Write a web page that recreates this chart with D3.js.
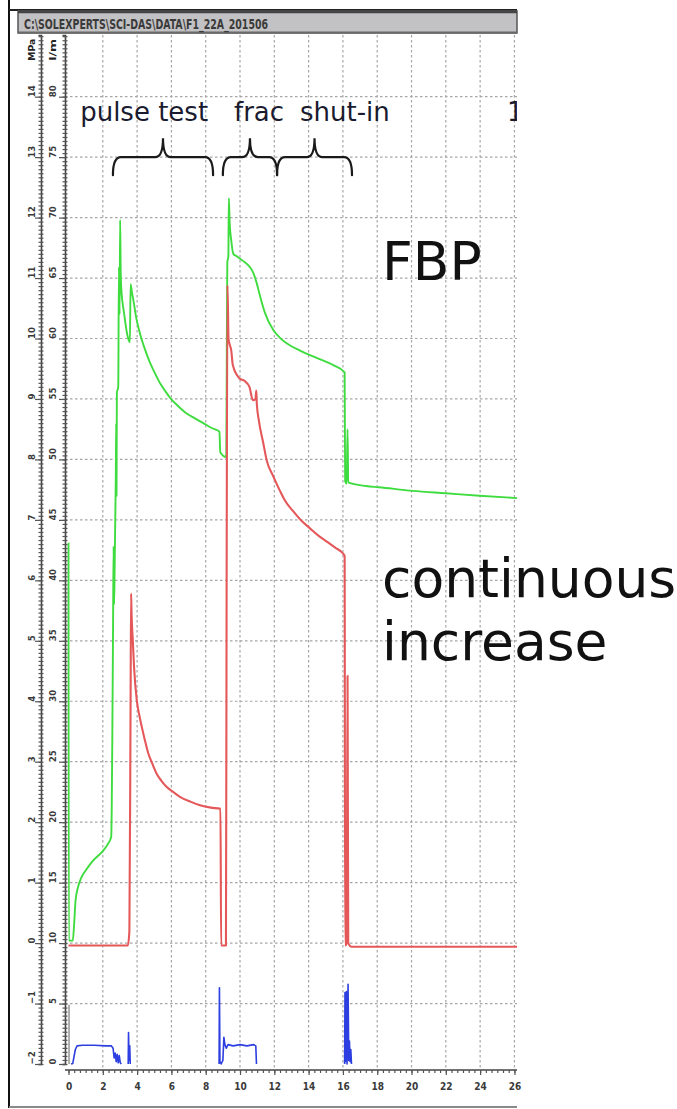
<!DOCTYPE html>
<html>
<head>
<meta charset="utf-8">
<script src="https://cdn.jsdelivr.net/npm/d3@7"></script>
<style>
  html, body { margin: 0; padding: 0; background: #fff; }
  svg { display: block; }
</style>
</head>
<body>
<svg id="chart" width="677" height="1109"></svg>
<script>
// ---- data -------------------------------------------------------------
// time axis in hours, pressure/flow channels on the instrument scale (0-80)
const titleText = "C:\\SOLEXPERTS\\SCI-DAS\\DATA\\F1_22A_201506";
const timeTicks = d3.range(0, 27, 2);
const scaleTicks = d3.range(0, 81, 5);          // right-hand scale labels
const mpaTicks = d3.range(-2, 15, 1);           // left-hand scale labels (MPa)
const unitLabels = ["MPa", "l/m"];

// upper interval pressure (green)
const greenSeries = [
  [0.00, 43.1], [0.02, 10.2], [0.25, 10.2], [0.33, 11.6], [0.41, 13.5], [0.55, 14.6],
  [0.74, 15.4], [1.00, 16.0], [1.42, 16.8], [2.00, 17.6], [2.30, 18.2], [2.49, 18.8],
  [2.52, 21.0], [2.56, 28.0], [2.60, 36.6], [2.63, 42.8], [2.66, 38.0], [2.69, 41.0],
  [2.73, 45.5], [2.76, 48.8], [2.78, 53.0], [2.80, 47.0], [2.82, 55.5], [2.90, 56.0],
  [2.94, 65.9], [2.98, 62.0], [3.01, 69.8], [3.04, 66.0], [3.07, 64.3], [3.25, 62.0],
  [3.46, 60.1], [3.58, 59.7], [3.62, 64.5], [3.70, 63.8], [3.78, 63.2], [3.95, 61.7],
  [4.17, 60.4], [4.46, 59.1], [4.75, 58.0], [5.05, 57.1], [5.34, 56.3], [5.62, 55.7],
  [5.92, 55.1], [6.40, 54.4], [6.89, 53.8], [7.37, 53.4], [7.86, 53.0], [8.35, 52.6],
  [8.80, 52.3], [8.85, 50.6], [9.20, 50.2], [9.23, 59.1], [9.26, 66.3], [9.32, 66.8],
  [9.35, 71.6], [9.40, 69.5], [9.49, 68.1], [9.61, 67.0], [9.81, 66.8], [10.19, 66.4],
  [10.58, 65.9], [10.78, 65.4], [10.97, 64.6], [11.17, 63.5], [11.46, 62.1], [11.94, 60.7],
  [12.30, 60.1], [12.72, 59.6], [13.50, 59.0], [14.47, 58.4], [15.44, 57.8], [16.10, 57.2],
  [16.13, 48.2], [16.22, 48.0], [16.27, 52.5], [16.31, 48.1], [17.35, 47.8], [18.10, 47.7],
  [20.06, 47.4], [22.00, 47.2], [23.96, 47.0], [26.15, 46.8]
];

// injection interval pressure (red)
const redSeries = [
  [0.00, 9.8], [3.46, 9.8], [3.55, 11.0], [3.62, 30.0], [3.65, 38.9], [3.68, 37.1],
  [3.75, 35.0], [3.82, 32.9], [3.98, 30.1], [4.12, 28.9], [4.27, 27.9], [4.45, 26.8],
  [4.65, 25.7], [4.90, 24.8], [5.14, 24.0], [5.43, 23.4], [5.73, 22.9], [6.10, 22.5],
  [6.50, 22.1], [7.10, 21.7], [7.67, 21.4], [8.30, 21.2], [8.86, 21.1], [8.90, 9.8],
  [9.18, 9.8], [9.22, 40.0], [9.27, 64.4], [9.33, 60.0], [9.40, 59.5], [9.49, 59.0],
  [9.58, 57.8], [9.97, 56.7], [10.26, 56.5], [10.55, 56.0], [10.75, 54.9], [10.90, 55.0],
  [10.95, 55.7], [10.98, 54.6], [11.10, 53.2], [11.35, 51.4], [11.56, 49.9], [11.94, 48.6],
  [12.33, 47.4], [12.62, 46.6], [13.11, 45.7], [13.60, 44.9], [14.08, 44.3], [14.57, 43.7],
  [15.06, 43.2], [15.55, 42.7], [16.02, 42.2], [16.10, 42.0], [16.13, 9.8], [16.22, 10.0],
  [16.27, 32.1], [16.31, 10.0], [16.50, 9.7], [20.00, 9.7], [26.15, 9.7]
];

// injection flow rate (blue), null marks a gap in the record
const blueSeries = [
  [0.15, 0.0], [0.25, 0.05], [0.32, 0.6], [0.40, 1.2], [0.50, 1.5], [0.80, 1.55],
  [1.50, 1.55], [2.20, 1.5], [2.50, 1.5], [2.60, 1.3], [2.66, 0.5], [2.72, 0.9],
  [2.78, 0.2], [2.84, 0.8], [2.90, 0.1], [2.96, 0.7], [3.02, 0.1], [3.08, 0.0],
  [3.30, null],
  [3.48, 0.0], [3.50, 2.6], [3.53, 0.3], [3.57, 1.5], [3.60, 0.0],
  [6.00, null],
  [8.78, 0.0], [8.80, 6.3], [8.83, 0.2], [8.90, 0.0], [9.00, 0.3], [9.06, 2.2],
  [9.12, 1.6], [9.20, 1.3], [9.30, 1.6], [9.60, 1.5], [10.00, 1.6], [10.40, 1.5],
  [10.80, 1.6], [10.92, 1.5], [10.96, 0.0],
  [13.00, null],
  [16.10, 0.0], [16.12, 5.9], [16.15, 0.2], [16.20, 6.0], [16.24, 0.0], [16.30, 6.6],
  [16.34, 0.3], [16.38, 1.9], [16.42, 0.2], [16.46, 1.2], [16.50, 0.0]
];

// auxiliary channel trace at start of record (grey)
const graySeries = [[0.03, 0.0], [0.03, 4.9]];

// test phases marked with braces (time span, brace level)
const phases = [
  { t0: 2.59, t1: 8.43, level: 75 },
  { t0: 9.00, t1: 12.16, level: 75 },
  { t0: 12.16, t1: 16.53, level: 75 }
];
const phaseLabels = [
  { text: "pulse test", t: 0.68, v: 78.0 },
  { text: "frac", t: 9.65, v: 78.0 },
  { text: "shut-in", t: 13.50, v: 78.0 },
  { text: "1", t: 25.57, v: 78.0 }
];
const sideNotes = [
  { text: "FBP", t: 18.28, v: 64.8 },
  { text: "continuous", t: 18.28, v: 38.6 },
  { text: "increase", t: 18.28, v: 33.4 }
];

// ---- layout -----------------------------------------------------------
const svg = d3.select("#chart");
const frame = { left: 65, right: 517, top: 35, bottom: 1068 };
const axisY = 1070;

const x = d3.scaleLinear().domain([0, 26.15]).range([68.5, 517]);
const y = d3.scaleLinear().domain([0, 85.1]).range([1064, 35]);
const yMPa = d3.scaleLinear().domain([-2, 15.02]).range([1064, 35]);

svg.append("rect").attr("width", 677).attr("height", 1109).attr("fill", "#fff");

svg.append("defs").append("clipPath").attr("id", "plotClip")
  .append("rect")
  .attr("x", frame.left).attr("y", frame.top)
  .attr("width", frame.right - frame.left).attr("height", frame.bottom - frame.top + 40);

// outer window frame
svg.append("line").attr("x1", 9).attr("x2", 9).attr("y1", 0).attr("y2", 1108)
  .attr("stroke", "#111").attr("stroke-width", 2);
svg.append("line").attr("x1", 9).attr("x2", 517).attr("y1", 10).attr("y2", 10)
  .attr("stroke", "#222").attr("stroke-width", 2);
svg.append("line").attr("x1", 9).attr("x2", 517).attr("y1", 1107).attr("y2", 1107)
  .attr("stroke", "#8a8a8a").attr("stroke-width", 2);

// title bar
svg.append("rect").attr("x", 18).attr("y", 11).attr("width", 499).attr("height", 22)
  .attr("fill", "#c2c1c3").attr("stroke", "#555").attr("stroke-width", 1.5);
svg.append("line").attr("x1", 18).attr("x2", 517).attr("y1", 12).attr("y2", 12)
  .attr("stroke", "#444").attr("stroke-width", 2.5);
svg.append("line").attr("x1", 18).attr("x2", 517).attr("y1", 32.5).attr("y2", 32.5)
  .attr("stroke", "#6a6a6a").attr("stroke-width", 2);
svg.append("text").attr("x", 24).attr("y", 28.5)
  .attr("font-family", "'DejaVu Sans Condensed', 'DejaVu Sans'")
  .attr("font-weight", "bold").attr("font-size", 14.5)
  .attr("textLength", 244).attr("lengthAdjust", "spacingAndGlyphs")
  .attr("fill", "#3a3a3a").text(titleText);

// ---- grid -------------------------------------------------------------
const plotG = svg.append("g").attr("clip-path", "url(#plotClip)");
const gridStyle = g => g.attr("stroke", "#a6a6a6").attr("stroke-width", 1.2)
  .attr("stroke-dasharray", "2.5,2.5");

plotG.append("g").selectAll("line").data(scaleTicks.filter(v => v > 0)).join("line")
  .attr("x1", frame.left).attr("x2", frame.right)
  .attr("y1", d => y(d)).attr("y2", d => y(d)).call(gridStyle);
plotG.append("g").selectAll("line").data(timeTicks.filter(t => t > 0)).join("line")
  .attr("x1", d => x(d)).attr("x2", d => x(d))
  .attr("y1", frame.top).attr("y2", axisY).call(gridStyle);

// ---- series -----------------------------------------------------------
const smoothLine = d3.line().curve(d3.curveMonotoneX)
  .x(d => x(d[0])).y(d => y(d[1]));
const rawLine = d3.line().defined(d => d[1] !== null)
  .x(d => x(d[0])).y(d => y(d[1]));

plotG.append("path").datum(graySeries).attr("d", rawLine)
  .attr("fill", "none").attr("stroke", "#8c8c8c").attr("stroke-width", 1.4);
plotG.append("path").datum(greenSeries).attr("d", smoothLine)
  .attr("fill", "none").attr("stroke", "#3fdc3f").attr("stroke-width", 1.9)
  .attr("stroke-linejoin", "round");
plotG.append("path").datum(redSeries).attr("d", smoothLine)
  .attr("fill", "none").attr("stroke", "#e5585a").attr("stroke-width", 2.1)
  .attr("stroke-linejoin", "round");
plotG.append("path").datum(blueSeries).attr("d", rawLine)
  .attr("fill", "none").attr("stroke", "#2d3fe0").attr("stroke-width", 1.6)
  .attr("stroke-linejoin", "round");

// ---- phase annotations ------------------------------------------------
function bracePath(p) {
  const x0 = x(p.t0), x1 = x(p.t1), xc = (x0 + x1) / 2;
  const yh = y(p.level), yb = yh + 18, yt = yh - 19, r = 8;
  return `M${x0},${yb} Q${x0},${yh} ${x0 + r},${yh} L${xc - r},${yh} ` +
         `Q${xc},${yh} ${xc},${yt} Q${xc},${yh} ${xc + r},${yh} ` +
         `L${x1 - r},${yh} Q${x1},${yh} ${x1},${yb}`;
}
plotG.append("g").selectAll("path").data(phases).join("path")
  .attr("d", bracePath).attr("fill", "none")
  .attr("stroke", "#1a1a1a").attr("stroke-width", 2.2).attr("stroke-linecap", "round");

plotG.append("g").selectAll("text").data(phaseLabels).join("text")
  .attr("x", d => x(d.t)).attr("y", d => y(d.v))
  .attr("font-family", "'DejaVu Sans', sans-serif").attr("font-size", 26)
  .attr("fill", "#1b1b30").text(d => d.text);

svg.append("g").selectAll("text").data(sideNotes).join("text")
  .attr("x", d => x(d.t)).attr("y", d => y(d.v))
  .attr("font-family", "'DejaVu Sans', sans-serif").attr("font-size", 53.5)
  .attr("fill", "#111").text(d => d.text);

// ---- axes -------------------------------------------------------------
const axisFont = "'DejaVu Sans Condensed', 'DejaVu Sans'";
const minorY = d3.range(0, 85.1, 1 / 3);
const minorX = d3.range(0, 26.15, 1 / 3);

function styleAxis(g) {
  g.selectAll("path.domain").attr("stroke", "#444").attr("stroke-width", 1.6);
  g.selectAll(".tick line").attr("stroke", "#555").attr("stroke-width", 1.2);
  g.selectAll("text").attr("font-family", axisFont).attr("font-weight", "bold")
    .attr("fill", "#3a3a3a");
}

function verticalAxis(xPos, scale, values, fmt, labelOffset) {
  const g = svg.append("g").attr("transform", `translate(${xPos},0)`);
  // dense minor ticks straddling the axis line
  g.append("g").call(d3.axisLeft(y).tickValues(minorY).tickSize(2.5).tickFormat(""))
    .call(styleAxis);
  g.append("g").call(d3.axisRight(y).tickValues(minorY).tickSize(2.5).tickFormat(""))
    .call(g2 => g2.select("path.domain").remove()).call(styleAxis);
  const major = g.append("g")
    .call(d3.axisLeft(scale).tickValues(values).tickSize(6).tickFormat(fmt))
    .call(styleAxis);
  major.select("path.domain").remove();
  major.selectAll(".tick text")
    .attr("x", null).attr("dy", null)
    .attr("text-anchor", "start").attr("font-size", 9.5)
    .attr("transform", `translate(${-labelOffset},0) rotate(-90)`);
  return g;
}

const mpaAxis = verticalAxis(41, yMPa, mpaTicks, d3.format("d"), 6);
const scaleAxis = verticalAxis(65, y, scaleTicks, d3.format("d"), 9);

// unit captions at the head of each scale
[mpaAxis, scaleAxis].forEach((g, i) => {
  g.append("text")
    .attr("transform", `translate(${i === 0 ? -6 : -9},${y(84.95) + 24}) rotate(-90)`)
    .attr("text-anchor", "start").attr("font-family", axisFont)
    .attr("font-weight", "bold").attr("font-size", 9)
    .attr("textLength", 22).attr("lengthAdjust", "spacingAndGlyphs")
    .attr("fill", "#222").text(unitLabels[i]);
});

// time axis
const xAxisG = svg.append("g").attr("transform", `translate(0,${axisY})`);
xAxisG.append("g").call(d3.axisBottom(x).tickValues(minorX).tickSize(3).tickFormat(""))
  .call(styleAxis);
const xMajor = xAxisG.append("g")
  .call(d3.axisBottom(x).tickValues(timeTicks).tickSize(5).tickFormat(d3.format("d")))
  .call(styleAxis);
xMajor.select("path.domain").remove();
xMajor.selectAll(".tick text").attr("y", 13).attr("font-size", 10);
xAxisG.select("path.domain").attr("d", `M${frame.left},0H${frame.right}`);
</script>
</body>
</html>
